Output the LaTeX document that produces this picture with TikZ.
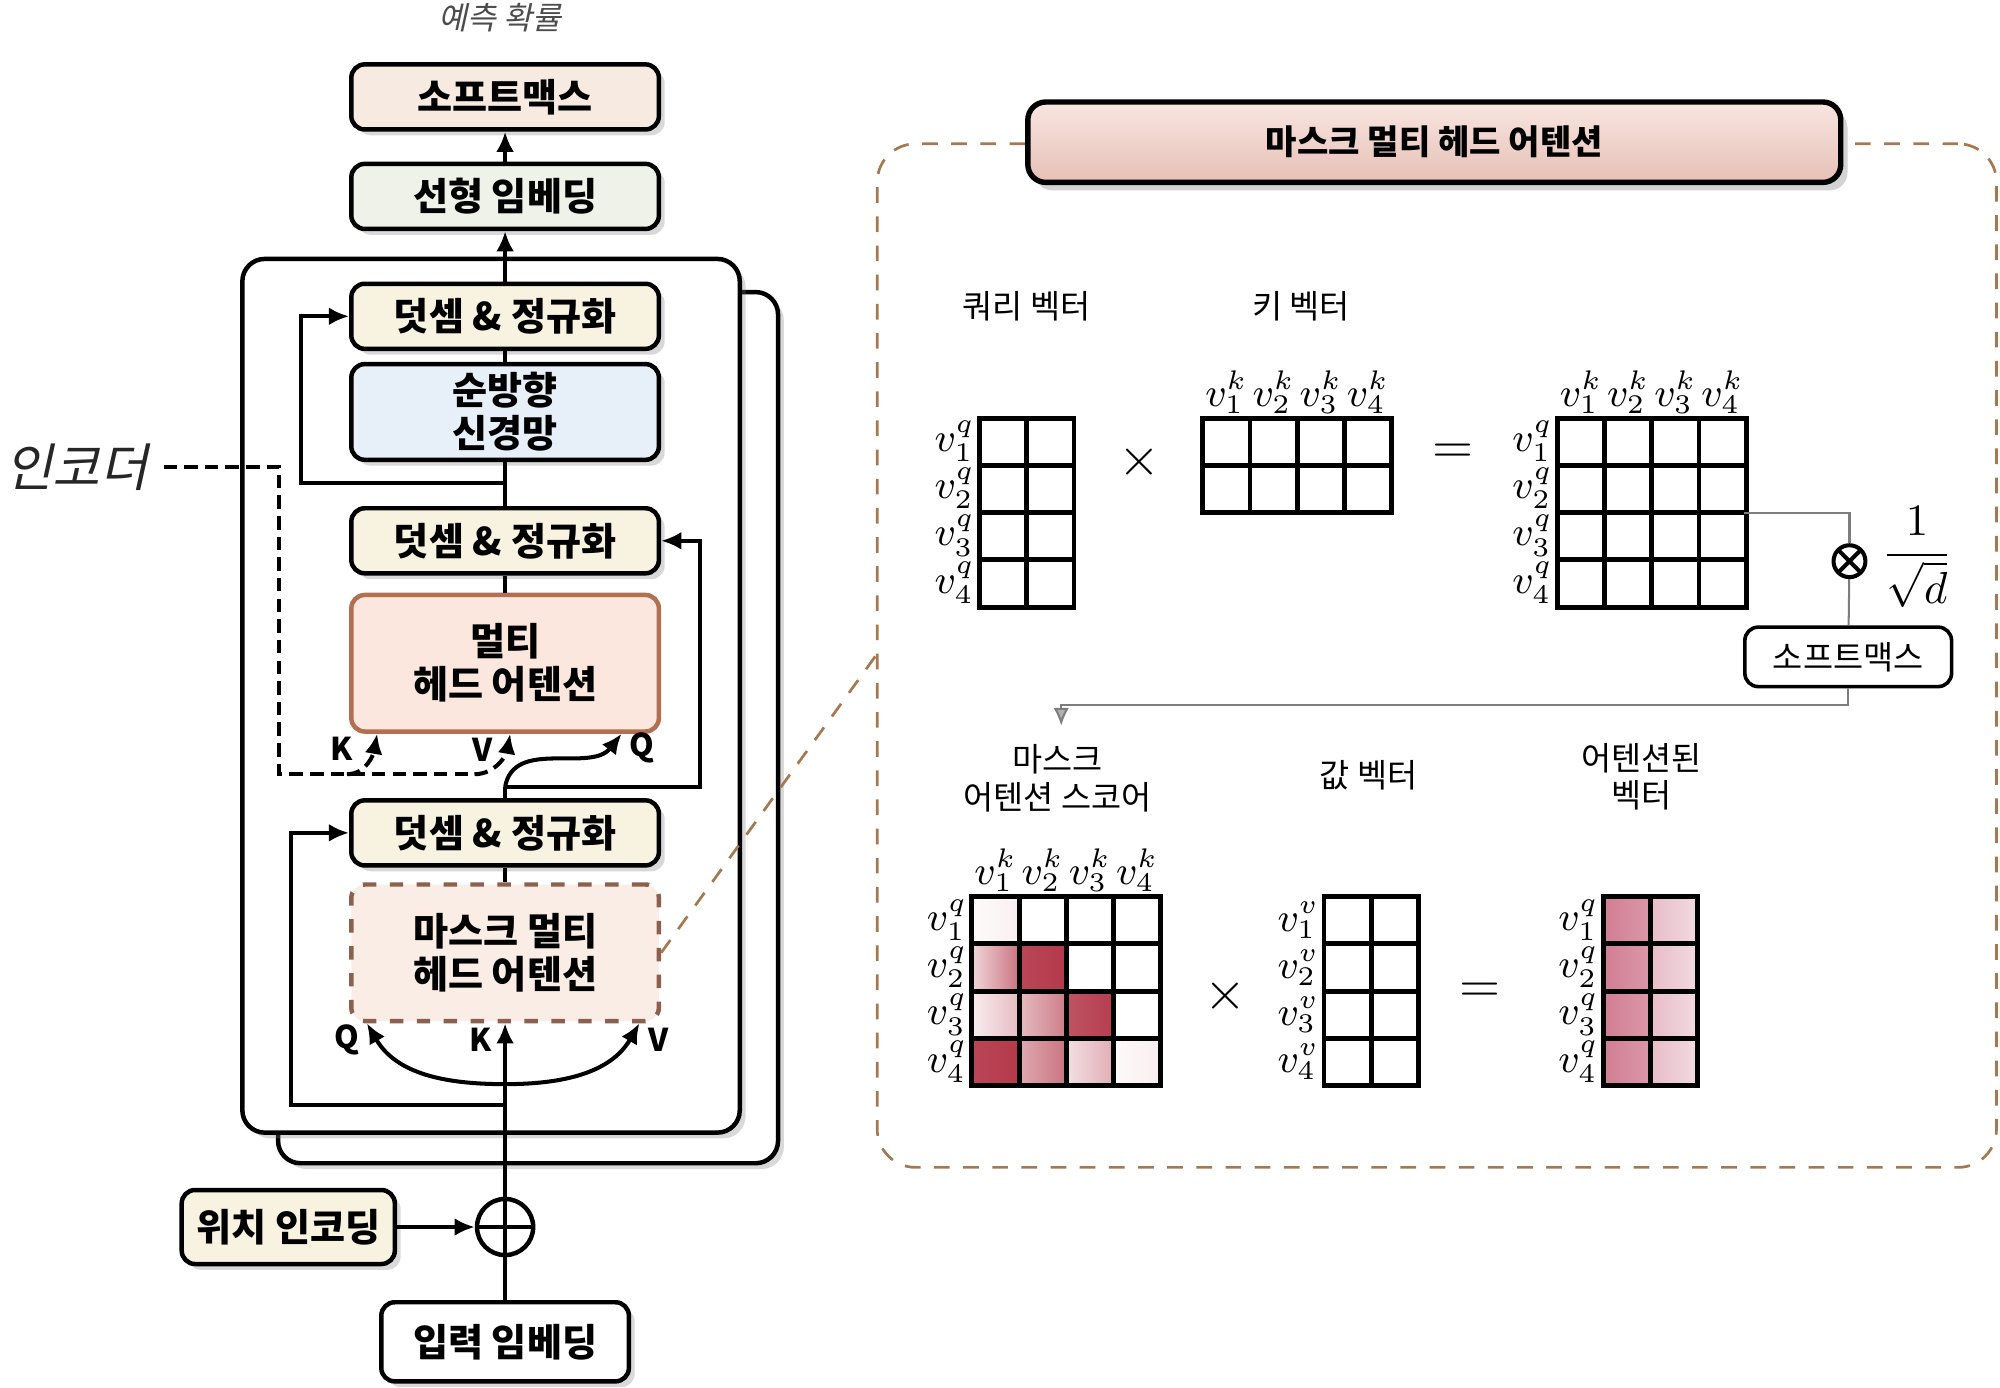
\documentclass[tikz,border=0pt]{standalone}
\usepackage{fontspec}
\usepackage{amsmath}
\usepackage{tikz}
\usetikzlibrary{arrows.meta,calc,shadows}
\newfontfamily\krfont{Noto Sans CJK KR}
\newfontfamily\krslant{Noto Sans CJK KR}[FakeSlant=0.22]

\definecolor{peachfill}{RGB}{246,234,225}
\definecolor{greenfill}{RGB}{238,242,233}
\definecolor{creamfill}{RGB}{248,242,224}
\definecolor{bluefill}{RGB}{231,239,249}
\definecolor{salmonfill}{RGB}{251,231,221}
\definecolor{salmonline}{RGB}{178,112,82}
\definecolor{rosefill}{RGB}{250,237,229}
\definecolor{roseline}{RGB}{140,96,78}
\definecolor{panelline}{RGB}{165,120,80}
\definecolor{ttltop}{RGB}{248,230,224}
\definecolor{ttlbottom}{RGB}{230,192,182}
\definecolor{maskred}{RGB}{170,30,50}
\definecolor{resred}{RGB}{190,70,100}
\definecolor{flowgray}{RGB}{125,125,125}

\tikzset{
  shd/.style={drop shadow={opacity=0.3,shadow xshift=1.3pt,shadow yshift=-1.3pt}},
  stack/.style={draw,line width=1pt,fill=white,rounded corners=5pt,shd},
  blk/.style={draw,line width=1pt,rounded corners=3pt,minimum width=2.41cm,minimum height=0.51cm,
    inner sep=1pt,align=center,font=\krfont\bfseries\fontsize{8.5}{9.6}\selectfont},
  conn/.style={line width=0.9pt},
  arr/.style={conn,-{Latex[length=4.5pt,width=4pt]}},
  encdash/.style={conn,dash pattern=on 3pt off 1.6pt},
  brdash/.style={draw=panelline,line width=0.6pt,dash pattern=on 3.5pt off 3pt},
  oplus/.style={circle,draw,line width=1pt,minimum size=0.44cm,inner sep=0pt,
    path picture={\draw[line width=1pt] (path picture bounding box.north) -- (path picture bounding box.south)
      (path picture bounding box.west) -- (path picture bounding box.east);}},
  otim/.style={circle,draw,line width=0.9pt,minimum size=0.25cm,inner sep=0pt,
    path picture={\draw[line width=0.9pt] (path picture bounding box.north west) -- (path picture bounding box.south east)
      (path picture bounding box.south west) -- (path picture bounding box.north east);}},
  hdr/.style={font=\krslant\fontsize{7}{8}\selectfont,text=black!70},
  enclab/.style={font=\krslant\fontsize{11.5}{12}\selectfont,text=black!85},
  qkv/.style={font=\krfont\bfseries\fontsize{7}{8}\selectfont,inner sep=1pt},
  rtxt/.style={align=center,font=\krfont\fontsize{7.3}{8.4}\selectfont},
  ttlbox/.style={draw,line width=1.2pt,rounded corners=4pt,minimum width=6.37cm,minimum height=0.63cm,
    top color=ttltop,bottom color=ttlbottom,font=\krfont\bfseries\fontsize{7.6}{8}\selectfont,
    drop shadow={opacity=0.35,shadow xshift=1.5pt,shadow yshift=-1.8pt}},
  panelbox/.style={brdash,rounded corners=0.3cm,minimum width=8.77cm,minimum height=8.02cm},
  sbox/.style={draw,line width=0.8pt,rounded corners=3pt,fill=white,minimum width=1.62cm,minimum height=0.46cm,
    font=\krfont\fontsize{7.3}{8}\selectfont},
  mcell/.style={draw,line width=1.1pt},
  vlab/.style={inner sep=0.3pt,font=\fontsize{9}{10}\selectfont},
  op/.style={font=\large},
  flow/.style={draw=flowgray,line width=0.45pt},
}

\begin{document}
\begin{tikzpicture}[x=0.01cm,y=0.01cm]
\useasboundingbox (0,0) rectangle (1568,1088);

\draw[stack] (218,176) rectangle (610,859);
\draw[stack] (190,200) rectangle (580,885);

\node[hdr] (prob) at (392,1074) {예측 확률};
\node[blk,shd,fill=peachfill] (smax) at (396,1012) {소프트맥스};
\node[blk,shd,fill=greenfill] (lin) at (396,934) {선형 임베딩};
\node[blk,shd,fill=creamfill] (an1) at (396,840) {덧셈 \& 정규화};
\node[blk,shd,fill=bluefill,minimum height=0.75cm] (ffn) at (396,765) {순방향\\신경망};
\node[blk,shd,fill=creamfill] (an2) at (396,664) {덧셈 \& 정규화};
\node[blk,fill=salmonfill,draw=salmonline,minimum height=1.07cm] (mha) at (396,568) {멀티\\헤드 어텐션};
\node[blk,shd,fill=creamfill] (an3) at (396,435) {덧셈 \& 정규화};
\node[blk,fill=rosefill,draw=roseline,dashed,minimum height=1.07cm] (mmha) at (396,341) {마스크 멀티\\헤드 어텐션};
\node[blk,shd,fill=creamfill,minimum width=1.67cm,minimum height=0.58cm] (pe) at (226,126) {위치 인코딩};
\node[blk,shd,fill=white,minimum width=1.94cm,minimum height=0.62cm] (ie) at (396,36) {입력 임베딩};
\node[oplus] (plus) at (396,126) {};
\node[enclab] (enc) at (60,722) {인코더};

\draw[arr] (lin) -- (smax);
\draw[arr] (an1) -- (lin);
\draw[conn] (ffn) -- (an1);
\draw[conn] (an2) -- (ffn);
\coordinate (r1) at (396,709);
\draw[arr] (r1) -- (236,709) |- (an1.west);
\draw[conn] (mha) -- (an2);
\coordinate (r2) at (396,471);
\draw[conn] (an3) -- (r2);
\draw[arr] (r2) -- (549,471) |- (an2.east);
\draw[arr] (r2) to[out=80,in=232] ([xshift=-0.31cm]mha.south east);
\draw[encdash] (enc.east) -- (219,722) -- (219,481) -- (372,481);
\draw[encdash,-{Latex[length=4.5pt,width=4pt]}] (372,481) to[out=0,in=-100] ([xshift=0.04cm]mha.south);
\draw[encdash,-{Latex[length=4.5pt,width=4pt]}] (272,481) to[out=0,in=-100] ([xshift=0.22cm]mha.south west);
\node[qkv] (k1) at (268,501) {K};
\node[qkv] (v1) at (378,500) {V};
\node[qkv] (q1) at (503,502) {Q};

\draw[conn] (mmha) -- (an3);
\coordinate (r3) at (396,222);
\draw[arr] (r3) -- (228,222) |- (an3.west);
\draw[arr] (plus) -- (mmha);
\draw[conn] (ie) -- (plus);
\draw[arr] (pe) -- (plus);
\coordinate (qvb) at (396,238);
\draw[conn,{Latex[length=4.5pt,width=4pt]}-{Latex[length=4.5pt,width=4pt]}] ([xshift=0.14cm]mmha.south west)
  to[out=-60,in=180] (qvb) to[out=0,in=-120] ([xshift=-0.17cm]mmha.south east);
\node[qkv] (q2) at (272,273) {Q};
\node[qkv] (k2) at (377,273) {K};
\node[qkv] (v2) at (516,273) {V};

\node[panelbox] (panel) at (1126.5,574) {};
\draw[brdash] (mmha.east) -- (panel.west);
\node[ttlbox] (ttl) at (1124.5,976.5) {마스크 멀티 헤드 어텐션};

\node[rtxt] (qv) at (805,848) {쿼리 벡터};
\node[rtxt] (kv) at (1020,848) {키 벡터};
\node[rtxt] (msc) at (829,478) {마스크\\어텐션 스코어};
\node[rtxt] (vv) at (1073,480) {값 벡터};
\node[rtxt] (av) at (1287,479) {어텐션된\\벡터};

\begin{scope}[shift={(768,612)}]
\foreach \c in {0,1} \foreach \r in {0,...,3}
  \draw[mcell] (37*\c,37*\r) rectangle ++(37,37);
\end{scope}
\foreach \i in {1,...,4} \node[vlab,anchor=east] (qr\i) at (766,779-37*\i) {$v^q_{\i}$};

\begin{scope}[shift={(943,686)}]
\foreach \c in {0,...,3} \foreach \r in {0,1}
  \draw[mcell] (37*\c,37*\r) rectangle ++(37,37);
\end{scope}
\foreach \i in {1,...,4} \node[vlab,anchor=south] (kc\i) at (924.5+37*\i,762) {$v^k_{\i}$};

\begin{scope}[shift={(1221,612)}]
\foreach \c in {0,...,3} \foreach \r in {0,...,3}
  \draw[mcell] (37*\c,37*\r) rectangle ++(37,37);
\end{scope}
\foreach \i in {1,...,4} {
  \node[vlab,anchor=south] (sc\i) at (1202.5+37*\i,762) {$v^k_{\i}$};
  \node[vlab,anchor=east] (sr\i) at (1219,779-37*\i) {$v^q_{\i}$};
}

\node[op] (x1) at (893,726) {$\times$};
\node[op] (eq1) at (1139,732) {$=$};

\coordinate (sme) at (1367,686);
\node[otim] (mul) at (1450,648) {};
\node (dscale) at (1503,651) {$\dfrac{1}{\sqrt{d}}$};
\node[sbox] (smax2) at (1449,573) {소프트맥스};
\coordinate (mscin) at (832,519);
\draw[flow] (sme) -| (mul);
\draw[flow] (mul) -- (smax2);
\draw[flow,-{Latex[length=4pt,width=3.5pt,fill=flowgray!60]}] (smax2.south) -- ++(0,-13) -| (mscin);

\begin{scope}[shift={(762,237)}]
\foreach \c/\r/\a/\b in {0/3/2/7, 0/2/18/62, 1/2/82/88, 0/1/8/30, 1/1/30/58, 2/1/76/86, 0/0/82/88, 1/0/38/62, 2/0/14/36, 3/0/2/8}
  \shade[left color=maskred!\a,right color=maskred!\b] (37*\c,37*\r) rectangle ++(37,37);
\foreach \c in {0,...,3} \foreach \r in {0,...,3}
  \draw[mcell] (37*\c,37*\r) rectangle ++(37,37);
\end{scope}
\foreach \i in {1,...,4} {
  \node[vlab,anchor=south] (mc\i) at (743.5+37*\i,387) {$v^k_{\i}$};
  \node[vlab,anchor=east] (mr\i) at (760,403.5-37*\i) {$v^q_{\i}$};
}

\begin{scope}[shift={(1038,237)}]
\foreach \c in {0,1} \foreach \r in {0,...,3}
  \draw[mcell] (37*\c,37*\r) rectangle ++(37,37);
\end{scope}
\foreach \i in {1,...,4} \node[vlab,anchor=east] (vr\i) at (1036,403.5-37*\i) {$v^v_{\i}$};

\begin{scope}[shift={(1257,237)}]
\foreach \r in {0,...,3} {
  \shade[left color=resred!70,right color=resred!56] (0,37*\r) rectangle ++(37,37);
  \shade[left color=resred!36,right color=resred!20] (37,37*\r) rectangle ++(37,37);
}
\foreach \c in {0,1} \foreach \r in {0,...,3}
  \draw[mcell] (37*\c,37*\r) rectangle ++(37,37);
\end{scope}
\foreach \i in {1,...,4} \node[vlab,anchor=east] (rr\i) at (1255,403.5-37*\i) {$v^q_{\i}$};

\node[op] (x2) at (961,307) {$\times$};
\node[op] (eq2) at (1160,310) {$=$};
\end{tikzpicture}
\end{document}
